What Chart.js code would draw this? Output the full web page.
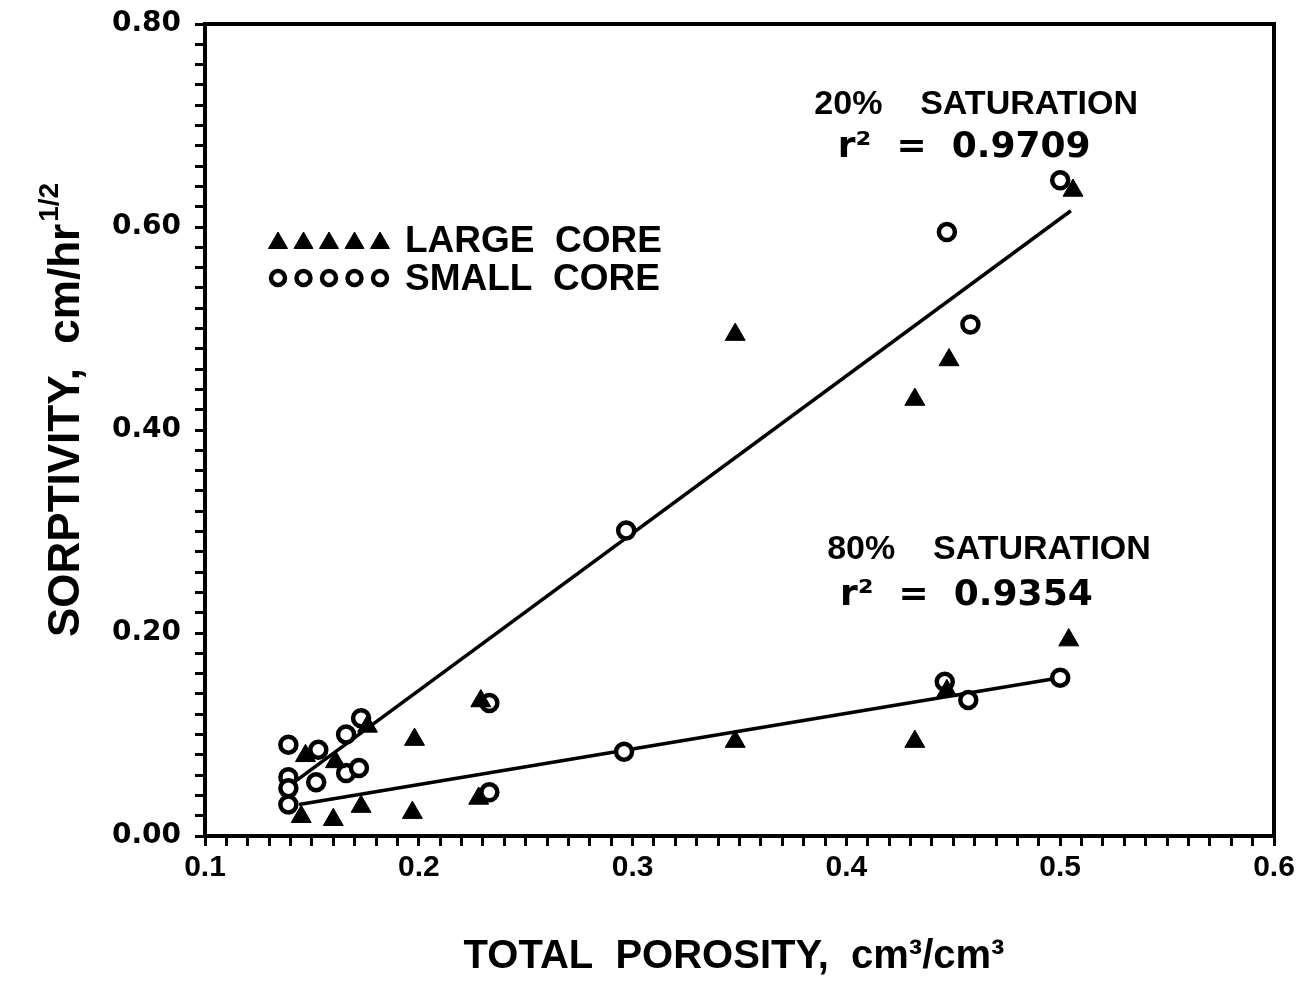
<!DOCTYPE html>
<html lang="en">
<head>
  <meta charset="UTF-8" />
  <title>Sorptivity vs Total Porosity</title>
  <script src="https://cdn.jsdelivr.net/npm/chart.js@4.4.0/dist/chart.umd.min.js"></script>
  <style>
    body { margin: 0; background: #fff; }
    canvas { display: block; }
  </style>
</head>
<body>
  <canvas id="sorpChart" width="1302" height="981"></canvas>

  <script>
    // large core (triangles)
    const largeX = [0.147, 0.161, 0.176, 0.145, 0.160, 0.173, 0.197, 0.198, 0.229, 0.228, 0.348, 0.348, 0.432, 0.432, 0.448, 0.447, 0.506, 0.504];
    const largeY = [0.079, 0.073, 0.108, 0.019, 0.016, 0.029, 0.023, 0.095, 0.133, 0.037, 0.494, 0.093, 0.430, 0.093, 0.469, 0.143, 0.636, 0.193];
    // small core (open circles)
    const smallX = [0.139, 0.153, 0.139, 0.139, 0.152, 0.139, 0.166, 0.173, 0.166, 0.172, 0.233, 0.233, 0.297, 0.296, 0.447, 0.458, 0.446, 0.457, 0.500, 0.500];
    const smallY = [0.090, 0.085, 0.058, 0.047, 0.053, 0.031, 0.100, 0.116, 0.062, 0.067, 0.131, 0.043, 0.301, 0.083, 0.595, 0.504, 0.152, 0.134, 0.646, 0.156];
    // regression lines
    const fit20X = [0.143, 0.505];
    const fit20Y = [0.055, 0.616];
    const fit80X = [0.144, 0.500];
    const fit80Y = [0.031, 0.156];

    const xTickLabels = ['0.1', '0.2', '0.3', '0.4', '0.5', '0.6'];
    const yTickLabels = ['0.00', '0.20', '0.40', '0.60', '0.80'];

    const legendLabels = ['LARGE  CORE', 'SMALL  CORE'];
    const satNotes = [
      { x: 0.385, y: 0.721, text: '20%    SATURATION' },
      { x: 0.391, y: 0.282, text: '80%    SATURATION' }
    ];
    const rNotes = [
      { x: 0.396, y: 0.678, text: 'r²  =  0.9709' },
      { x: 0.397, y: 0.237, text: 'r²  =  0.9354' }
    ];

    const toPts = (xs, ys) => xs.map((x, i) => ({ x: x, y: ys[i] }));

    const decor = {
      id: 'decor',
      afterDraw(chart) {
        const ctx = chart.ctx;
        const a = chart.chartArea;
        const xs = chart.scales.x, ys = chart.scales.y;
        ctx.save();
        // frame
        ctx.strokeStyle = '#000';
        ctx.lineWidth = 4;
        ctx.strokeRect(a.left, a.top, a.right - a.left, a.bottom - a.top);

        // legend
        for (let i = 0; i < 5; i++) {
          ctx.fillStyle = '#000';
          ctx.strokeStyle = '#000';
          ctx.lineWidth = 1;
          Chart.helpers.drawPoint(ctx, { pointStyle: 'triangle', radius: 11, rotation: 0, borderWidth: 1 }, 278 + i * 25.5, 243);
          ctx.fillStyle = '#fff';
          ctx.lineWidth = 4.5;
          Chart.helpers.drawPoint(ctx, { pointStyle: 'circle', radius: 7, rotation: 0, borderWidth: 4.5 }, 278 + i * 25.5, 278);
        }
        ctx.fillStyle = '#000';
        ctx.font = 'bold 37px "Liberation Sans", Arial, sans-serif';
        ctx.textBaseline = 'middle';
        ctx.textAlign = 'left';
        ctx.fillText(legendLabels[0], 405, 242);
        ctx.fillText(legendLabels[1], 405, 280);

        // annotations
        ctx.font = 'bold 34px "Liberation Sans", Arial, sans-serif';
        satNotes.forEach(n => ctx.fillText(n.text, xs.getPixelForValue(n.x), ys.getPixelForValue(n.y)));
        ctx.font = 'bold 36px "DejaVu Sans", sans-serif';
        rNotes.forEach(n => ctx.fillText(n.text, xs.getPixelForValue(n.x), ys.getPixelForValue(n.y)));

        // x axis title
        ctx.font = 'bold 40px "Liberation Sans", Arial, sans-serif';
        ctx.textAlign = 'center';
        ctx.textBaseline = 'alphabetic';
        ctx.fillText('TOTAL  POROSITY,  cm³/cm³', 734, 968);

        // y axis title
        ctx.translate(79, 411);
        ctx.rotate(-Math.PI / 2);
        ctx.textAlign = 'left';
        const main = 'SORPTIVITY,  cm/hr';
        ctx.font = 'bold 44px "Liberation Sans", Arial, sans-serif';
        const w = ctx.measureText(main).width;
        ctx.font = 'bold 28px "Liberation Sans", Arial, sans-serif';
        const sw = ctx.measureText('1/2').width;
        const x0 = -(w + sw) / 2;
        ctx.font = 'bold 44px "Liberation Sans", Arial, sans-serif';
        ctx.fillText(main, x0, 0);
        ctx.font = 'bold 28px "Liberation Sans", Arial, sans-serif';
        ctx.fillText('1/2', x0 + w + 2, -21);
        ctx.restore();
      }
    };

    const ctx = document.getElementById('sorpChart').getContext('2d');
    new Chart(ctx, {
      data: {
        datasets: [
          {
            type: 'line', data: toPts(fit20X, fit20Y),
            borderColor: '#000', borderWidth: 3.5, pointRadius: 0, fill: false, order: 3
          },
          {
            type: 'line', data: toPts(fit80X, fit80Y),
            borderColor: '#000', borderWidth: 3.5, pointRadius: 0, fill: false, order: 3
          },
          {
            type: 'scatter', label: 'LARGE CORE', data: toPts(largeX, largeY), order: 1,
            pointStyle: 'triangle', pointRadius: 11.5, pointBackgroundColor: '#000', pointBorderColor: '#000', pointBorderWidth: 1
          },
          {
            type: 'scatter', label: 'SMALL CORE', data: toPts(smallX, smallY), order: 2,
            pointStyle: 'circle', pointRadius: 8, pointBackgroundColor: '#fff', pointBorderColor: '#000', pointBorderWidth: 4.5
          }
        ]
      },
      options: {
        responsive: false,
        animation: false,
        layout: { padding: { top: 24, right: 28, left: 0, bottom: 0 } },
        plugins: { legend: { display: false }, tooltip: { enabled: false } },
        scales: {
          x: {
            type: 'linear', min: 0.1, max: 0.6,
            afterFit: s => { s.height = 145; s.paddingLeft = 0; s.paddingRight = 0; },
            ticks: {
              stepSize: 0.01, autoSkip: false, maxRotation: 0, color: '#000', padding: 4,
              font: { family: '"Liberation Sans", Arial, sans-serif', size: 30, weight: 'bold' },
              callback: v => {
                const k = Math.round(v * 10);
                return Math.abs(v * 10 - k) < 1e-6 ? xTickLabels[k - 1] : '';
              }
            },
            grid: { drawOnChartArea: false, tickLength: 10, tickWidth: 3, tickColor: '#000' },
            border: { color: '#000', width: 4 }
          },
          y: {
            type: 'linear', min: 0, max: 0.8,
            afterFit: s => { s.width = 205; s.paddingTop = 0; s.paddingBottom = 0; },
            ticks: {
              stepSize: 0.02, autoSkip: false, color: '#000', padding: 14,
              font: { family: '"DejaVu Sans", sans-serif', size: 28, weight: 'bold' },
              callback: v => {
                const k = Math.round(v * 5);
                return Math.abs(v * 5 - k) < 1e-6 ? yTickLabels[k] : '';
              }
            },
            grid: { drawOnChartArea: false, tickLength: 10, tickWidth: 3, tickColor: '#000' },
            border: { color: '#000', width: 4 }
          }
        }
      },
      plugins: [decor]
    });
  </script>
</body>
</html>
